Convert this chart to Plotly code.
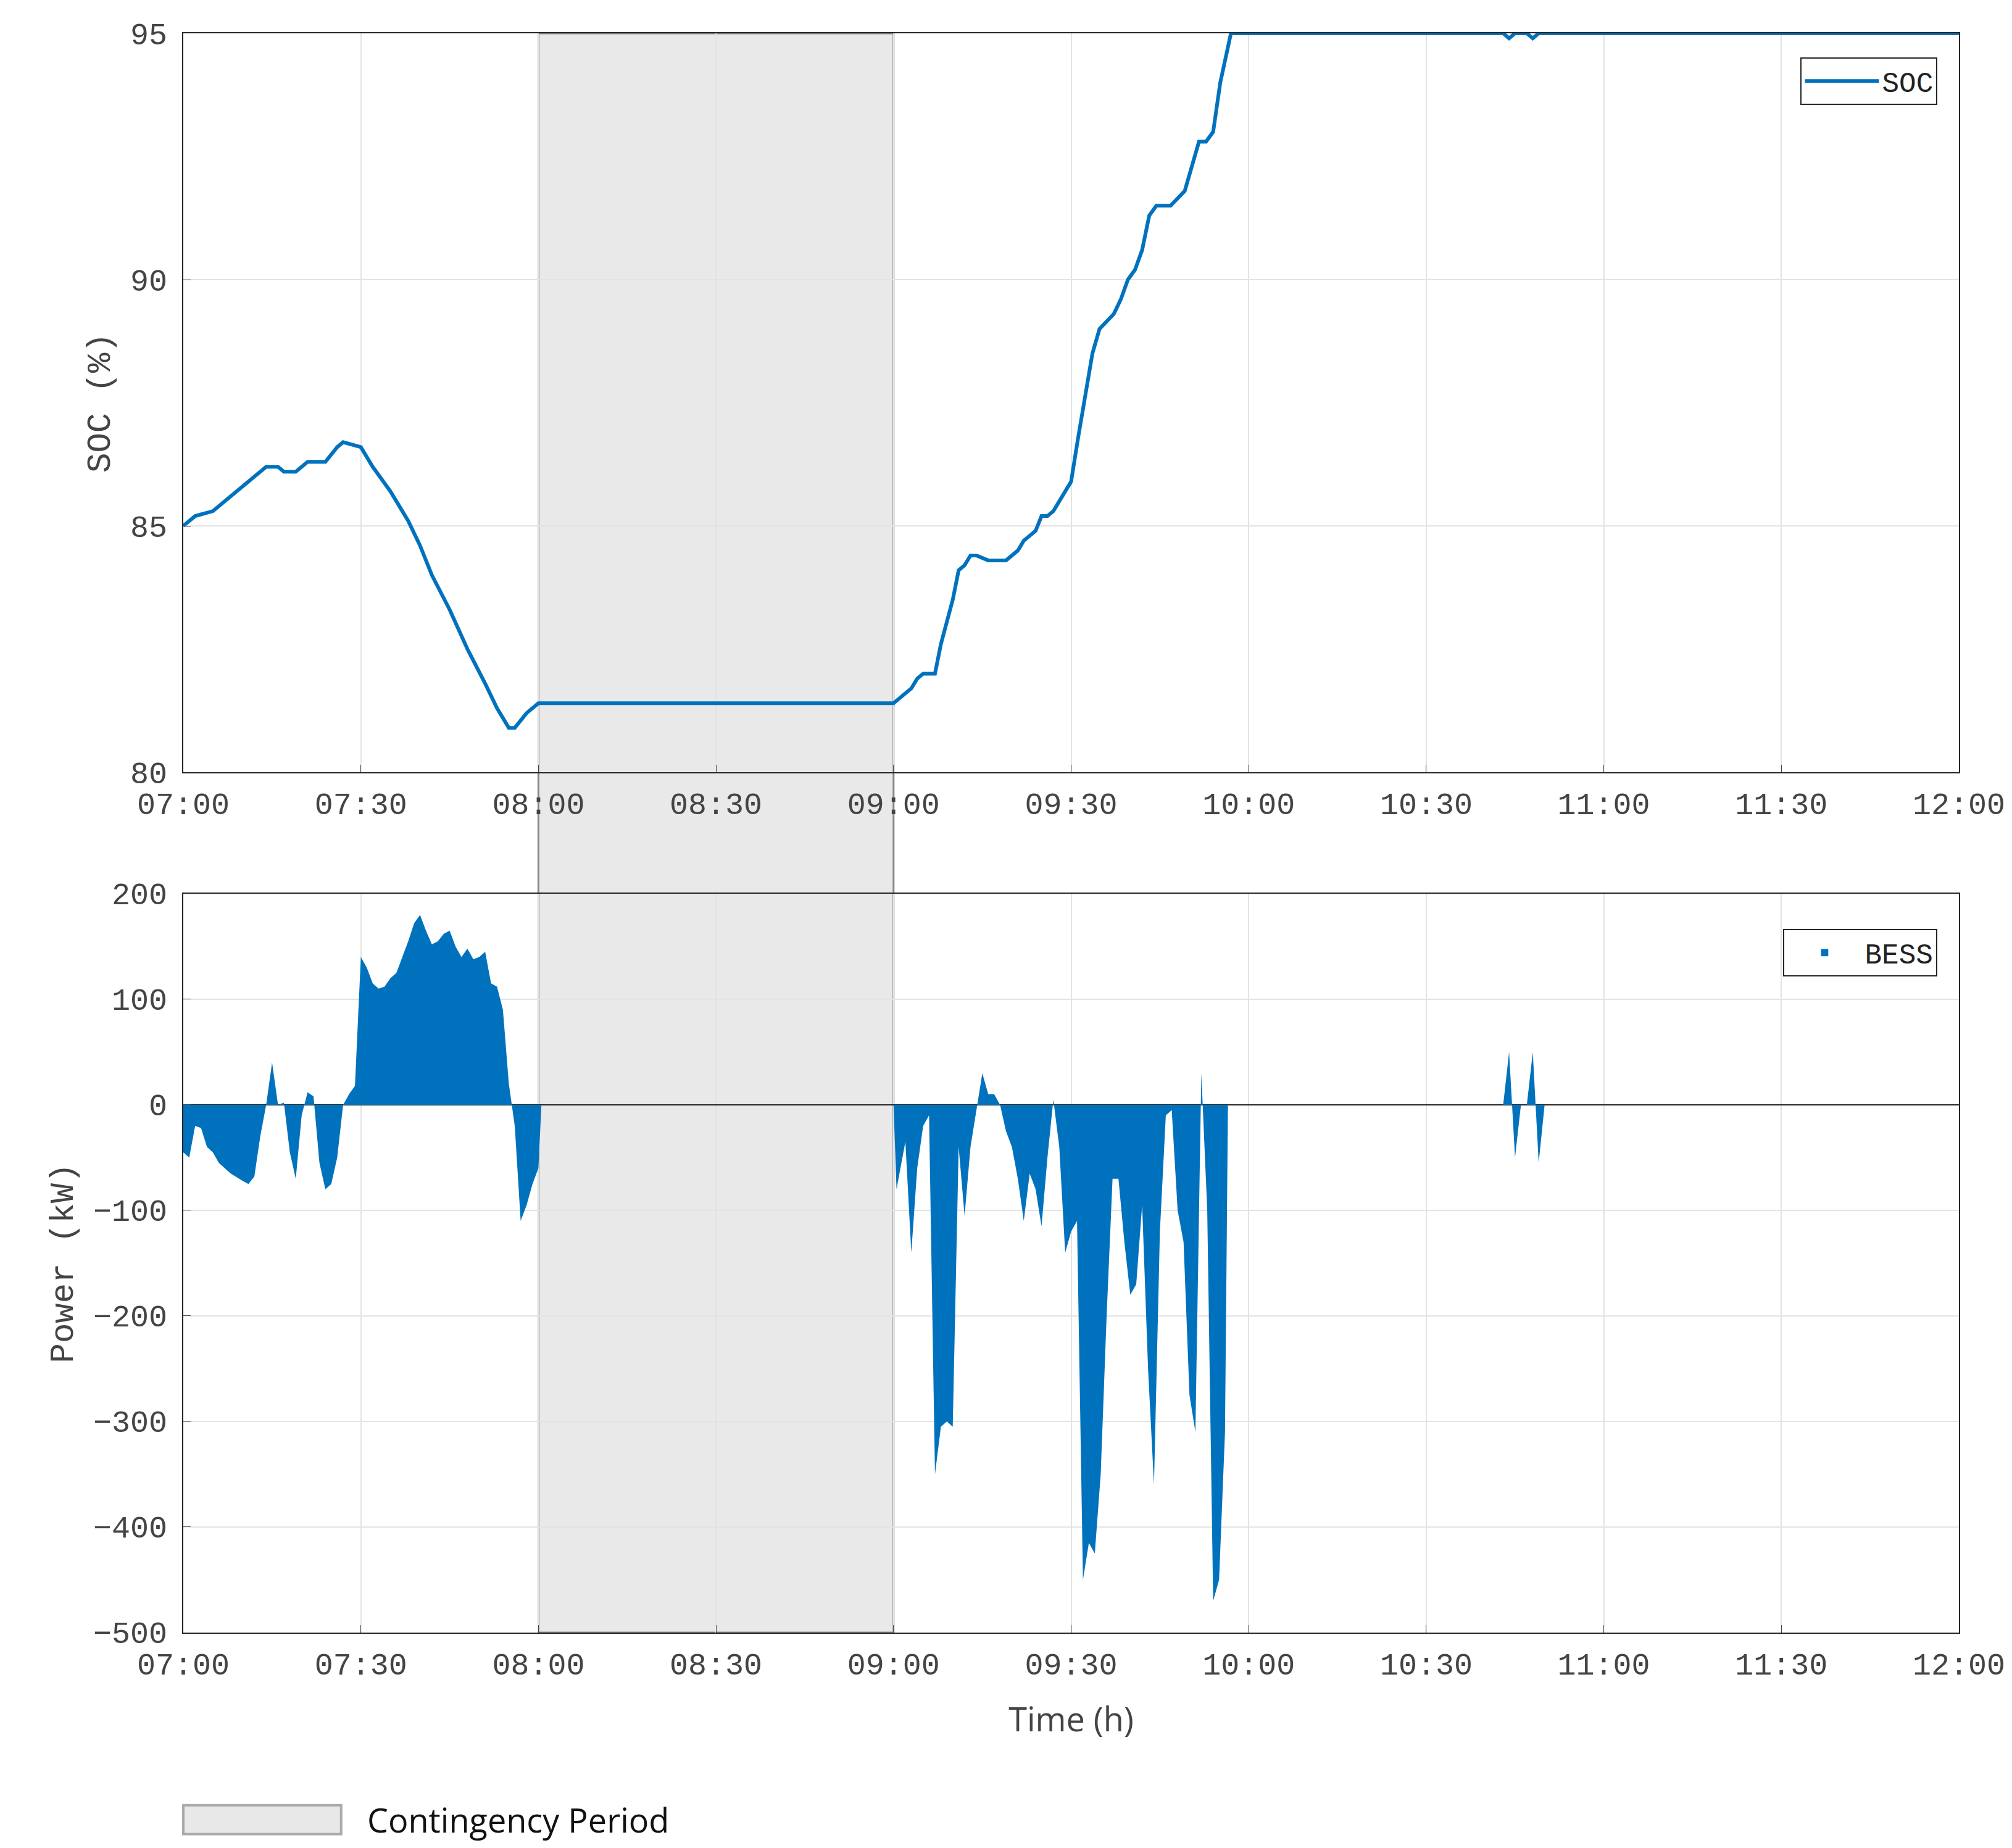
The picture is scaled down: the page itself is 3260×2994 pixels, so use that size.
import plotly.graph_objects as go
import datetime as dt

base = dt.datetime(2024, 1, 1, 7, 0)
def T(m): return [base + dt.timedelta(minutes=v) for v in m]

soc_min = [0,2,5,8,12,14,16,17,19,21,23,24,26,27,30,32,35,38,40,42,45,48,51,53,55,56,58,60,120,122,123,124,125,127,128,130,131,132,133,134,136,138,139,141,142,144,145,146,147,148,150,151.2,152.4,153.6,154.8,157.2,158.4,159.6,160.8,162,163.2,164.4,165.6,166.8,169.2,170.4,171.6,172.8,174,175.2,176.4,177,223,224,225,227,228,229,300]
soc_val = [85.0,85.2,85.3,85.6,86.0,86.2,86.2,86.1,86.1,86.3,86.3,86.3,86.6,86.7,86.6,86.2,85.7,85.1,84.6,84.0,83.3,82.5,81.8,81.3,80.9,80.9,81.2,81.4,81.4,81.6,81.7,81.9,82.0,82.0,82.6,83.5,84.1,84.2,84.4,84.4,84.3,84.3,84.3,84.5,84.7,84.9,85.2,85.2,85.3,85.5,85.9,86.8,87.7,88.5,89.0,89.3,89.6,90.0,90.2,90.6,91.3,91.5,91.5,91.5,91.8,92.3,92.8,92.8,93.0,94.0,94.7,95.0,95.0,94.9,95.0,95.0,94.9,95.0,95.0]

bess_min = [0,1,2,3,4,5,6,8,10,11,12,13,14,15,16,17,18,19,20,21,22,23,24,25,26,27,28,29,30,31,32,33,34,35,36,37,38,39,40,41,42,43,44,45,46,47,48,49,50,51,52,53,54,55,56,57,58,59,60,60.5,120,120.5,121.5,122,123,124,125,126,127,128,129,130,131,132,133,134,135,136,137,138,139,140,141,142,143,144,145,146,147,148,149,150,151,152,153,154,155,156,157,158,159,160,161,162,163,164,165,166,167,168,169,170,171,172,173,174,175,176,176.5,223,224,225,226,227,228,229,230,300]
bess_val = [-45,-50,-20,-22,-40,-45,-55,-65,-72,-75,-68,-30,0,40,0,2,-45,-70,-10,12,8,-55,-80,-75,-50,0,10,18,140,130,115,110,112,120,125,140,155,172,180,165,152,155,162,165,150,140,148,138,140,145,115,112,90,20,-20,-110,-95,-75,-60,0,0,-80,-50,-35,-140,-60,-20,-10,-350,-305,-300,-305,-40,-105,-40,-5,30,10,10,0,-25,-40,-70,-110,-65,-80,-115,-50,5,-40,-140,-120,-110,-450,-415,-425,-350,-200,-70,-70,-130,-180,-170,-95,-250,-360,-120,-10,-5,-100,-130,-275,-310,30,-100,-470,-450,-310,0,0,50,-50,0,0,50,-55,0,0]

blue = "#0072BD"
mono = "Liberation Mono"
fig = go.Figure()
fig.add_trace(go.Scatter(x=T(soc_min), y=soc_val, mode="lines", line=dict(color=blue, width=6),
                         name="SOC", xaxis="x", yaxis="y", legend="legend", showlegend=True))
fig.add_trace(go.Scatter(x=T(bess_min), y=bess_val, mode="lines", line=dict(color=blue, width=0),
                         fill="tozeroy", fillcolor=blue, name="BESS", xaxis="x2", yaxis="y2", showlegend=False))
fig.add_trace(go.Bar(x=[None], y=[None], marker=dict(color=blue), name="BESS", xaxis="x2", yaxis="y2",
                     legend="legend2", showlegend=True))

x0, x1 = base, base + dt.timedelta(hours=5)
tickvals = [base + dt.timedelta(minutes=30*i) for i in range(11)]
ticktext = [v.strftime("%H:%M") for v in tickvals]
ax = dict(range=[x0, x1], tickvals=tickvals, ticktext=ticktext, showgrid=True, gridcolor="#e3e3e3", gridwidth=2,
          showline=True, linecolor="#262626", linewidth=2, mirror=True, ticks="inside", ticklen=12,
          tickfont=dict(family=mono, size=50, color="#444"), zeroline=False, ticklabelstandoff=6)
yax = dict(showgrid=True, gridcolor="#e3e3e3", gridwidth=2, showline=True, linecolor="#262626", linewidth=2,
           mirror=True, ticks="inside", ticklen=12, tickfont=dict(family=mono, size=50, color="#444"),
           ticklabelstandoff=14)
fig.update_layout(
    width=3260, height=2994, plot_bgcolor="white", paper_bgcolor="white",
    margin=dict(l=289, r=94, t=46, b=357),
    xaxis=dict(ax, domain=[0, 1], anchor="y"),
    xaxis2=dict(ax, domain=[0, 1], anchor="y2",
                title=dict(text="Time (h)", font=dict(family="Open Sans", size=54, color="#444"), standoff=40)),
    yaxis=dict(yax, domain=[0.538, 1], range=[80, 95], tickvals=[80, 85, 90, 95], zeroline=False,
               title=dict(text="SOC (%)", font=dict(family=mono, size=54, color="#444"))),
    yaxis2=dict(yax, domain=[0, 0.462], range=[-500, 200], tickvals=list(range(-500, 201, 100)),
                zeroline=True, zerolinecolor="#262626", zerolinewidth=2,
                title=dict(text="Power (kW)", font=dict(family=mono, size=54, color="#444"))),
    legend=dict(x=0.988, y=0.985, xanchor="right", yanchor="top", itemwidth=120,
                bgcolor="white", bordercolor="#262626", borderwidth=2, font=dict(family=mono, size=46, color="#222")),
    legend2=dict(x=0.988, y=0.44, xanchor="right", yanchor="top", itemwidth=120, bgcolor="white",
                 bordercolor="#262626", borderwidth=2, font=dict(family=mono, size=46, color="#222")),
)
c0 = base + dt.timedelta(hours=1); c1 = base + dt.timedelta(hours=2)
fig.add_shape(type="rect", xref="x", yref="paper", x0=c0, x1=c1, y0=0, y1=1, fillcolor="rgba(200,200,200,0.4)",
              line=dict(color="#888", width=3), layer="below")
fig.add_shape(type="rect", xref="paper", yref="paper", x0=0, x1=0.0889, y0=-0.108, y1=-0.126,
              fillcolor="#e8e8e8", line=dict(color="#aaa", width=4))
fig.add_annotation(xref="paper", yref="paper", x=0.103, y=-0.117, text="Contingency Period", showarrow=False,
                   xanchor="left", yanchor="middle", font=dict(family="Open Sans", size=54, color="#111"))
fig.write_html("out.html")
